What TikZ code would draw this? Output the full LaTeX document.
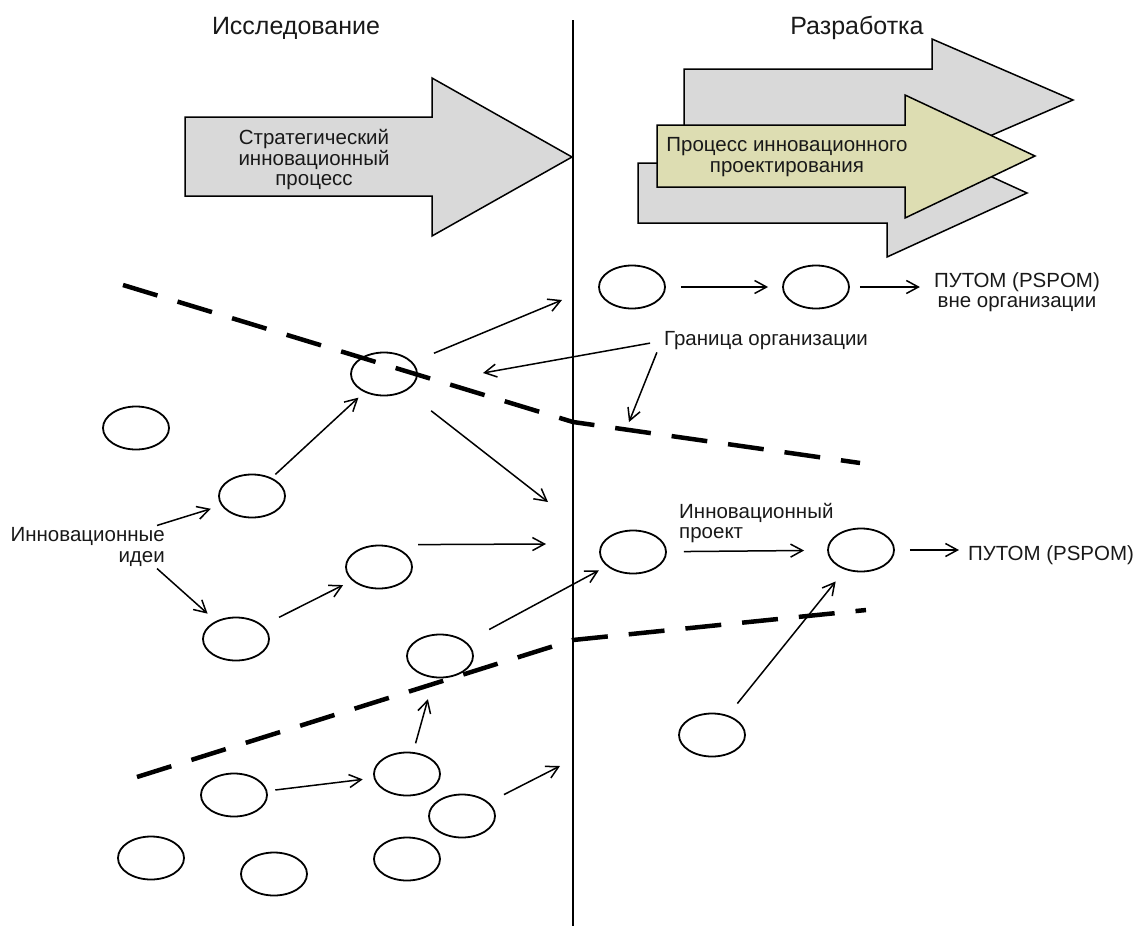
\documentclass[tikz,border=0pt]{standalone}
\usepackage{fontspec}
\setmainfont{Liberation Sans}
\usepackage{xcolor}
\usetikzlibrary{
    arrows.meta,
    shapes.geometric
}
\definecolor{procgray}{RGB}{217,217,217}
\definecolor{procyellow}{RGB}{221,221,178}

\begin{document}
\begin{tikzpicture}[
    x=1pt, y=-1pt,
    font=\fontsize{20.5}{20.5}\selectfont,
    idea/.style={
        ellipse,
        draw=black,
        line width=1.8pt,
        minimum width=66pt,
        minimum height=43pt,
        inner sep=0pt
    },
    arrow/.style={
        -{Straight Barb[length=12pt,width=13pt]},
        line width=1.5pt
    },
    border/.style={
        line width=4.5pt,
        dash pattern=on 36pt off 21pt
    },
    process/.style={
        draw=black,
        line width=1.5pt,
        fill=procgray
    },
    note/.style={
        align=center,
        inner sep=2pt,
        text=black!90
    },
    head/.style={
        font=\fontsize{25}{28}\selectfont,
        text=black!90
    }
]
\useasboundingbox (0,0) rectangle (1138,926);

% =========================================================
% Headings and process arrows
% =========================================================
\node[head] (research) at (296,28) {Исследование};
\node[head] (develop) at (857,28) {Разработка};

\draw[process] (185,117) -- (432,117) -- (432,78) -- (572,157)
    -- (432,236) -- (432,196) -- (185,196) -- cycle;
\node[note] (strat) at (314,160) {Стратегический\\инновационный\\процесс};

\draw[process] (684,69) -- (932,69) -- (932,39) -- (1073,100)
    -- (932,161) -- (932,131) -- (684,131) -- cycle;
\draw[process] (638,163) -- (887,163) -- (887,129) -- (1027,193)
    -- (887,257) -- (887,223) -- (638,223) -- cycle;
\draw[process, fill=procyellow] (657,125) -- (905,125) -- (905,95) -- (1035,156)
    -- (905,218) -- (905,187) -- (657,187) -- cycle;
\node[note] (design) at (787,157) {Процесс инновационного\\проектирования};

% divider between the two sides
\draw[line width=1.8pt] (573,20) -- (573,926);

% =========================================================
% Organisation boundary
% =========================================================
\draw[border] (123,285) -- (573,422) -- (860,463);
\draw[border] (137,777) -- (573,640) -- (866,610);

% =========================================================
% Ideas
% =========================================================
\node[idea] (orphan) at (136,428) {};
\node[idea] (cross) at (384,374) {};
\node[idea] (startA) at (252,496) {};
\node[idea] (midA) at (379,567) {};
\node[idea] (startB) at (236,639) {};
\node[idea] (lowA) at (440,656) {};
\node[idea] (seedA) at (234,795) {};
\node[idea] (seedB) at (407,774) {};
\node[idea] (seedC) at (462,816) {};
\node[idea] (seedD) at (151,858) {};
\node[idea] (seedE) at (274,874) {};
\node[idea] (seedF) at (407,859) {};

\node[idea] (extA) at (632,287) {};
\node[idea] (extB) at (816,287) {};
\node[idea] (projA) at (633,552) {};
\node[idea] (projB) at (861,550) {};
\node[idea] (lateIn) at (712,735) {};

% =========================================================
% Labels
% =========================================================
\node[note, align=right, anchor=east] (ideas) at (167,547) {Инновационные\\идеи};
\node[note] (orgline) at (766,341) {Граница организации};
\node[note, align=left, anchor=west] (projlabel) at (677,523) {Инновационный\\проект};
\node[note] (outTop) at (1017,292) {ПУТОМ (PSPOM)\\вне организации};
\node[note, anchor=west] (outMid) at (966,555) {ПУТОМ (PSPOM)};

% free ends at the divider
\coordinate (toTop) at (562,300);
\coordinate (toMid) at (548,502);
\coordinate (toRow) at (546,544);
\coordinate (toLow) at (560,766);
\coordinate (edgeA) at (483,373);
\coordinate (edgeB) at (629,422);

% =========================================================
% Arrows
% =========================================================
\draw[arrow, shorten >=11pt] ([xshift=-10pt]ideas.north east) -- (startA);
\draw[arrow, shorten >=11pt] ([xshift=-10pt]ideas.south east) -- (startB);

\draw[arrow, shorten <=5pt, shorten >=8pt] (startA) -- (cross);
\draw[arrow, shorten <=23pt] (cross) -- (toTop);
\draw[arrow, shorten <=32pt] (cross) -- (toMid);
\draw[arrow, shorten <=18pt, shorten >=10pt] (startB) -- (midA);
\draw[arrow] ([xshift=39pt]midA.north) -- (toRow);
\draw[arrow, shorten <=26pt, shorten >=9pt] (lowA) -- (projA);
\draw[arrow, shorten <=9pt, shorten >=22pt] (seedB) -- (lowA);
\draw[arrow, shorten <=8pt, shorten >=11pt] (seedA) -- (seedB);
\draw[arrow, shorten <=17pt] (seedC) -- (toLow);

\draw[arrow, shorten <=12pt] (orgline.west) -- (edgeA);
\draw[arrow] ([xshift=-5pt]orgline.south west) -- (edgeB);

\draw[arrow, shorten <=15pt, shorten >=14pt] (extA) -- (extB);
\draw[arrow, shorten <=10pt, shorten >=12pt] (extB) -- (extB -| outTop.west);
\draw[arrow, shorten <=17pt, shorten >=23pt] (projA) -- (projB);
\draw[arrow, shorten <=15pt, shorten >=7pt] (projB) -- (projB -| outMid.west);
\draw[arrow, shorten <=15pt, shorten >=15pt] (lateIn) -- (projB);

\end{tikzpicture}
\end{document}
